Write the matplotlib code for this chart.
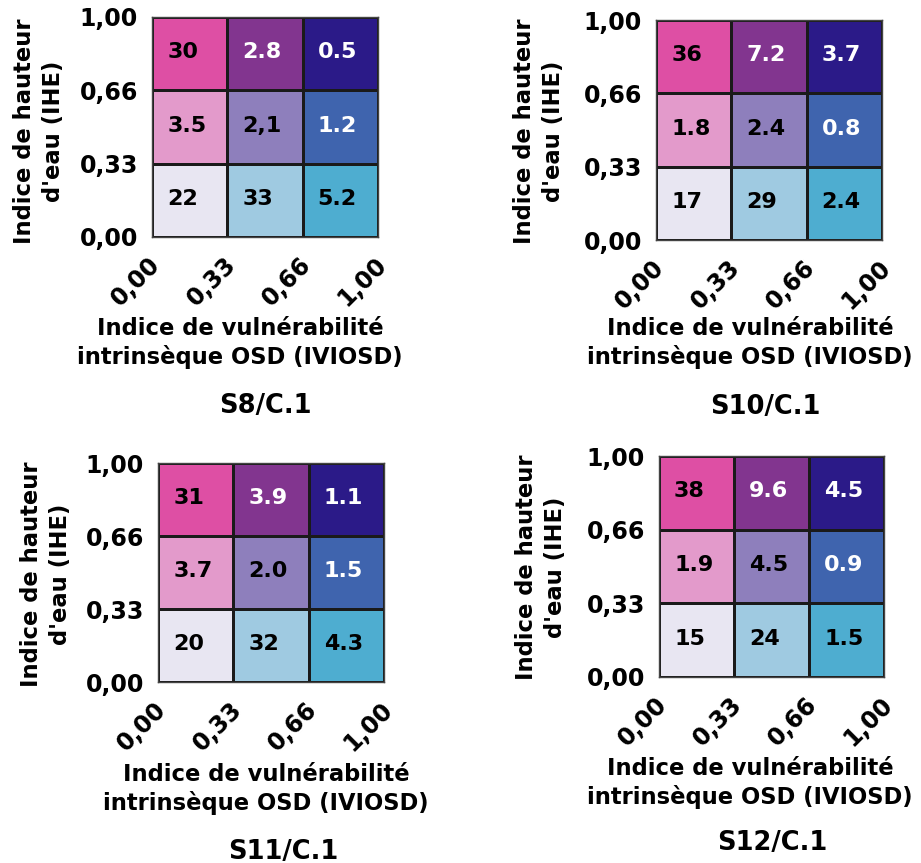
import numpy as np
import matplotlib
matplotlib.use('Agg')
import matplotlib.pyplot as plt
import matplotlib.transforms as mtransforms
from matplotlib.colors import ListedColormap

# bivariate palette, index = row*3 + col (row 0 = bottom IHE class)
palette = ['#E8E6F2', '#9FCAE1', '#4EADD0',
           '#E39ACB', '#8E7FBC', '#3F64AE',
           '#DE4FA4', '#82358F', '#2B1A88']
# text colour per cell (white on the dark ones)
text_col = ['black', 'black', 'black',
            'black', 'black', 'white',
            'black', 'white', 'white']

tick_labels = ['0,00', '0,33', '0,66', '1,00']
xlabel = "Indice de vulnérabilité\nintrinsèque OSD (IVIOSD)"
ylabel = "Indice de hauteur\nd'eau (IHE)"

titles = ['S8/C.1', 'S10/C.1', 'S11/C.1', 'S12/C.1']
# cell values as printed, rows from bottom to top, columns left to right
s8 = [['22', '33', '5.2'], ['3.5', '2,1', '1.2'], ['30', '2.8', '0.5']]
s10 = [['17', '29', '2.4'], ['1.8', '2.4', '0.8'], ['36', '7.2', '3.7']]
s11 = [['20', '32', '4.3'], ['3.7', '2.0', '1.5'], ['31', '3.9', '1.1']]
s12 = [['15', '24', '1.5'], ['1.9', '4.5', '0.9'], ['38', '9.6', '4.5']]
values = [s8, s10, s11, s12]

# layout in pixels: grid box (l, t, r, b), xlabel centre, ylabel centre, title centre
W, H = 921, 863
layout = [
    dict(box=(152, 17, 378, 237), xl=(240, 343), yl=(39, 131), ti=(265, 406)),
    dict(box=(656, 20, 882, 240), xl=(750, 343), yl=(539, 131), ti=(765, 407)),
    dict(box=(158, 463, 384, 682), xl=(266, 789), yl=(46, 574), ti=(283, 852)),
    dict(box=(659, 456, 884, 677), xl=(750, 783), yl=(541, 567), ti=(772, 843)),
]

plt.rcParams['font.family'] = 'DejaVu Sans'
plt.rcParams['font.weight'] = 'bold'

fig = plt.figure(figsize=(W / 100, H / 100), dpi=100)
cmap = ListedColormap(palette)
idx = np.arange(9).reshape(3, 3)

def fx(px):
    return px / W

def fy(py):
    return 1 - py / H

shift = mtransforms.ScaledTranslation(-16 / 100, 0, fig.dpi_scale_trans)

for vals, title, lay in zip(values, titles, layout):
    l, t, r, b = lay['box']
    ax = fig.add_axes([fx(l), fy(b), fx(r - l), (b - t) / H])
    ax.pcolormesh(np.arange(4), np.arange(4), idx, cmap=cmap, vmin=-0.5, vmax=8.5,
                  edgecolors='#1a1a1a', linewidth=0.8)
    for i in range(3):
        for j in range(3):
            ax.text(j + 0.2, i + 0.52, vals[i][j], ha='left', va='center',
                    fontsize=16, fontweight='bold', color=text_col[i * 3 + j])
    ax.set_xlim(0, 3)
    ax.set_ylim(0, 3)
    ax.set_xticks(range(4))
    ax.set_yticks(range(4))
    ax.set_xticklabels(tick_labels, rotation=45, fontsize=17, fontweight='bold')
    ax.set_yticklabels(tick_labels, fontsize=17, fontweight='bold')
    ax.tick_params(axis='x', length=0, pad=11)
    ax.tick_params(axis='y', length=0, pad=10)
    # x tick labels sit a bit left of their ticks in the original
    for tk in ax.xaxis.get_major_ticks():
        tk.label1.set_transform(tk.label1.get_transform() + shift)
    for sp in ax.spines.values():
        sp.set_color('#444444')
        sp.set_linewidth(1)

    ax.set_xlabel(xlabel, fontsize=16.3, fontweight='bold', linespacing=1.3,
                  va='center', ha='center')
    ax.xaxis.set_label_coords(fx(lay['xl'][0]), fy(lay['xl'][1]), transform=fig.transFigure)
    ax.set_ylabel(ylabel, fontsize=16.3, fontweight='bold', linespacing=1.3,
                  va='center', ha='center')
    ax.yaxis.set_label_coords(fx(lay['yl'][0]), fy(lay['yl'][1]), transform=fig.transFigure)
    fig.text(fx(lay['ti'][0]), fy(lay['ti'][1]), title, ha='center', va='center',
             fontsize=18.5, fontweight='bold')

fig.savefig('out.png', dpi=100)
